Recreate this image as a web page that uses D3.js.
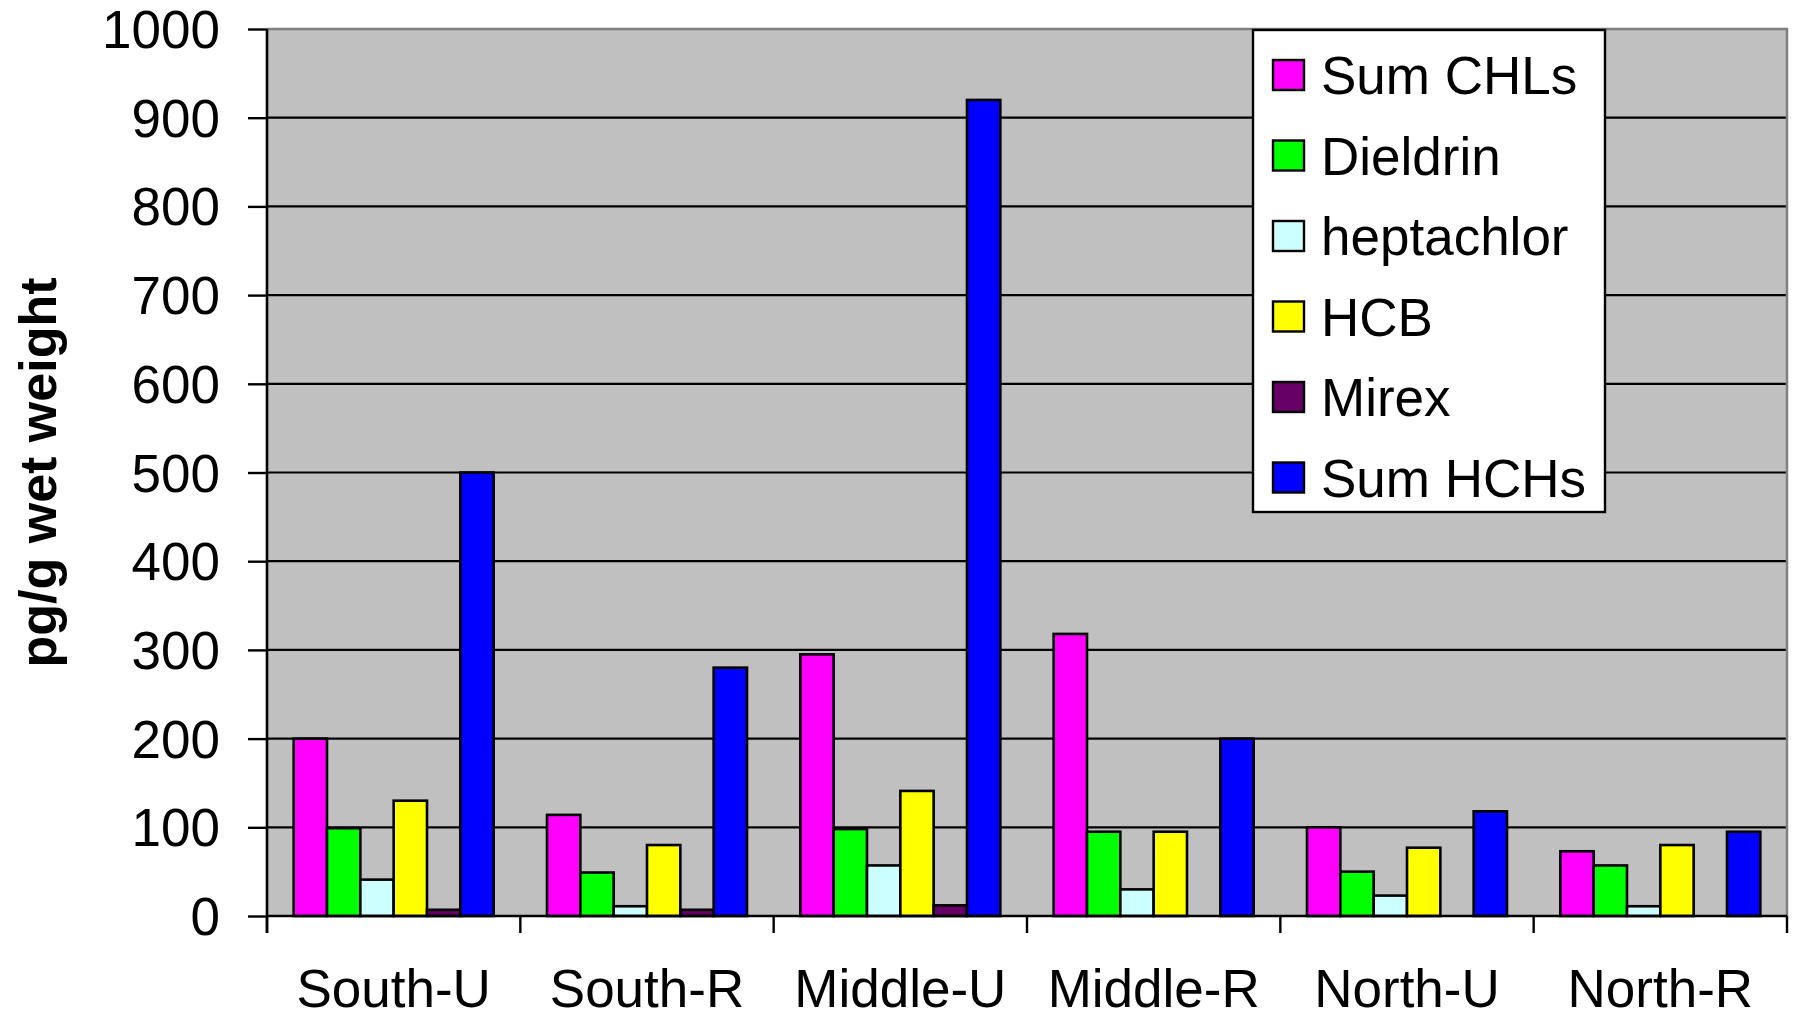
<!DOCTYPE html>
<html>
<head>
<meta charset="utf-8">
<script src="https://cdn.jsdelivr.net/npm/d3@7"></script>
<style>
  html, body { margin: 0; padding: 0; background: #ffffff; }
  svg { display: block; font-family: "Liberation Sans", Arial, sans-serif; }
</style>
</head>
<body>
<svg id="chart" width="1797" height="1022"></svg>
<script>
// Organochlorine pesticide levels by region (pg/g wet weight)
const categories = ["South-U", "South-R", "Middle-U", "Middle-R", "North-U", "North-R"];
const seriesNames = ["Sum CHLs", "Dieldrin", "heptachlor", "HCB", "Mirex", "Sum HCHs"];
const seriesColors = ["#FF00FF", "#00FF00", "#CCFFFF", "#FFFF00", "#660066", "#0000FF"];

const sumCHLs    = [200, 114, 295, 318, 100, 73];
const dieldrin   = [99, 49, 98, 95, 50, 57];
const heptachlor = [41, 11, 57, 30, 23, 11];
const hcb        = [130, 80, 141, 95, 77, 80];
const mirex      = [7, 7, 12, 0, 0, 0];
const sumHCHs    = [500, 280, 920, 200, 118, 95];

const yTicks = [0, 100, 200, 300, 400, 500, 600, 700, 800, 900, 1000];
const yLabel = "pg/g wet weight";

const seriesValues = [sumCHLs, dieldrin, heptachlor, hcb, mirex, sumHCHs];

const svg = d3.select("#chart");
const plot = { left: 267, right: 1787, top: 29, bottom: 916 };

const x = d3.scaleBand().domain(categories).range([plot.left, plot.right]).padding(0);
const y = d3.scaleLinear().domain([0, 1000]).range([plot.bottom, plot.top]);

// bar width: six bars plus a gap of 1.6 bar widths per category
const barW = x.bandwidth() / (seriesNames.length + 1.6);
const inner = d3.scaleBand()
  .domain(seriesNames)
  .range([0, barW * seriesNames.length]);
const groupPad = (x.bandwidth() - barW * seriesNames.length) / 2;

// plot background
svg.append("rect")
  .attr("x", plot.left).attr("y", plot.top)
  .attr("width", plot.right - plot.left).attr("height", plot.bottom - plot.top)
  .attr("fill", "#C0C0C0");

// gridlines
svg.append("g").selectAll("line")
  .data(yTicks.filter(v => v > 0 && v < 1000))
  .join("line")
  .attr("x1", plot.left).attr("x2", plot.right)
  .attr("y1", d => y(d)).attr("y2", d => y(d))
  .attr("stroke", "#000").attr("stroke-width", 2.2);

// top and right frame
svg.append("path")
  .attr("d", `M${plot.left},${plot.top}H${plot.right}V${plot.bottom}`)
  .attr("fill", "none").attr("stroke", "#808080").attr("stroke-width", 2.5);

// bars
const rows = [];
categories.forEach((c, i) => {
  seriesNames.forEach((s, j) => {
    rows.push({ cat: c, series: s, value: seriesValues[j][i], color: seriesColors[j] });
  });
});

svg.append("g").selectAll("rect")
  .data(rows.filter(d => d.value > 0))
  .join("rect")
  .attr("x", d => x(d.cat) + groupPad + inner(d.series))
  .attr("y", d => y(d.value))
  .attr("width", inner.bandwidth())
  .attr("height", d => y(0) - y(d.value))
  .attr("fill", d => d.color)
  .attr("stroke", "#000")
  .attr("stroke-width", 2.6);

// y axis
const yAxis = svg.append("g")
  .attr("transform", `translate(${plot.left},0)`)
  .call(d3.axisLeft(y).tickValues(yTicks).tickSize(19).tickPadding(28).tickFormat(d3.format("d")));
yAxis.select(".domain").remove();
yAxis.selectAll(".tick line").attr("stroke", "#000").attr("stroke-width", 2.4);
yAxis.selectAll(".tick text")
  .attr("font-size", 53).attr("fill", "#000").attr("dy", "0.35em")
  .attr("font-family", "Liberation Sans, Arial, sans-serif");

// x axis with category boundary ticks
const xAxis = svg.append("g")
  .attr("transform", `translate(0,${plot.bottom})`)
  .call(d3.axisBottom(x).tickSize(0).tickPadding(0));
xAxis.select(".domain").remove();
xAxis.selectAll(".tick text")
  .attr("font-size", 53).attr("fill", "#000")
  .attr("y", 91).attr("dy", 0)
  .attr("font-family", "Liberation Sans, Arial, sans-serif");

const bounds = categories.map(c => x(c)).concat([x(categories[categories.length - 1]) + x.bandwidth()]);
svg.append("g").selectAll("line")
  .data(bounds)
  .join("line")
  .attr("x1", d => d).attr("x2", d => d)
  .attr("y1", plot.bottom).attr("y2", plot.bottom + 17)
  .attr("stroke", "#000").attr("stroke-width", 2.4);

// axis lines
svg.append("line")
  .attr("x1", plot.left).attr("x2", plot.right)
  .attr("y1", plot.bottom).attr("y2", plot.bottom)
  .attr("stroke", "#000").attr("stroke-width", 2.6);
svg.append("line")
  .attr("x1", plot.left).attr("x2", plot.left)
  .attr("y1", plot.top).attr("y2", plot.bottom + 17)
  .attr("stroke", "#000").attr("stroke-width", 2.6);

// y axis title
svg.append("text")
  .attr("transform", `translate(56,${(plot.top + plot.bottom) / 2}) rotate(-90)`)
  .attr("text-anchor", "middle")
  .attr("font-size", 52).attr("font-weight", "bold").attr("fill", "#000")
  .text(yLabel);

// legend
const legend = { x: 1253, y: 30, w: 352, h: 482, rowH: 80.5, firstRow: 75 };
svg.append("rect")
  .attr("x", legend.x).attr("y", legend.y)
  .attr("width", legend.w).attr("height", legend.h)
  .attr("fill", "#fff").attr("stroke", "#000").attr("stroke-width", 2.4);

const items = svg.append("g").selectAll("g")
  .data(seriesNames.map((s, i) => ({ name: s, color: seriesColors[i], i })))
  .join("g")
  .attr("transform", d => `translate(0,${legend.firstRow + d.i * legend.rowH})`);
items.append("rect")
  .attr("x", 1273).attr("y", -15)
  .attr("width", 31).attr("height", 30)
  .attr("fill", d => d.color).attr("stroke", "#000").attr("stroke-width", 2.4);
items.append("text")
  .attr("x", 1321).attr("y", 19)
  .attr("font-size", 53).attr("fill", "#000")
  .text(d => d.name);
</script>
</body>
</html>
